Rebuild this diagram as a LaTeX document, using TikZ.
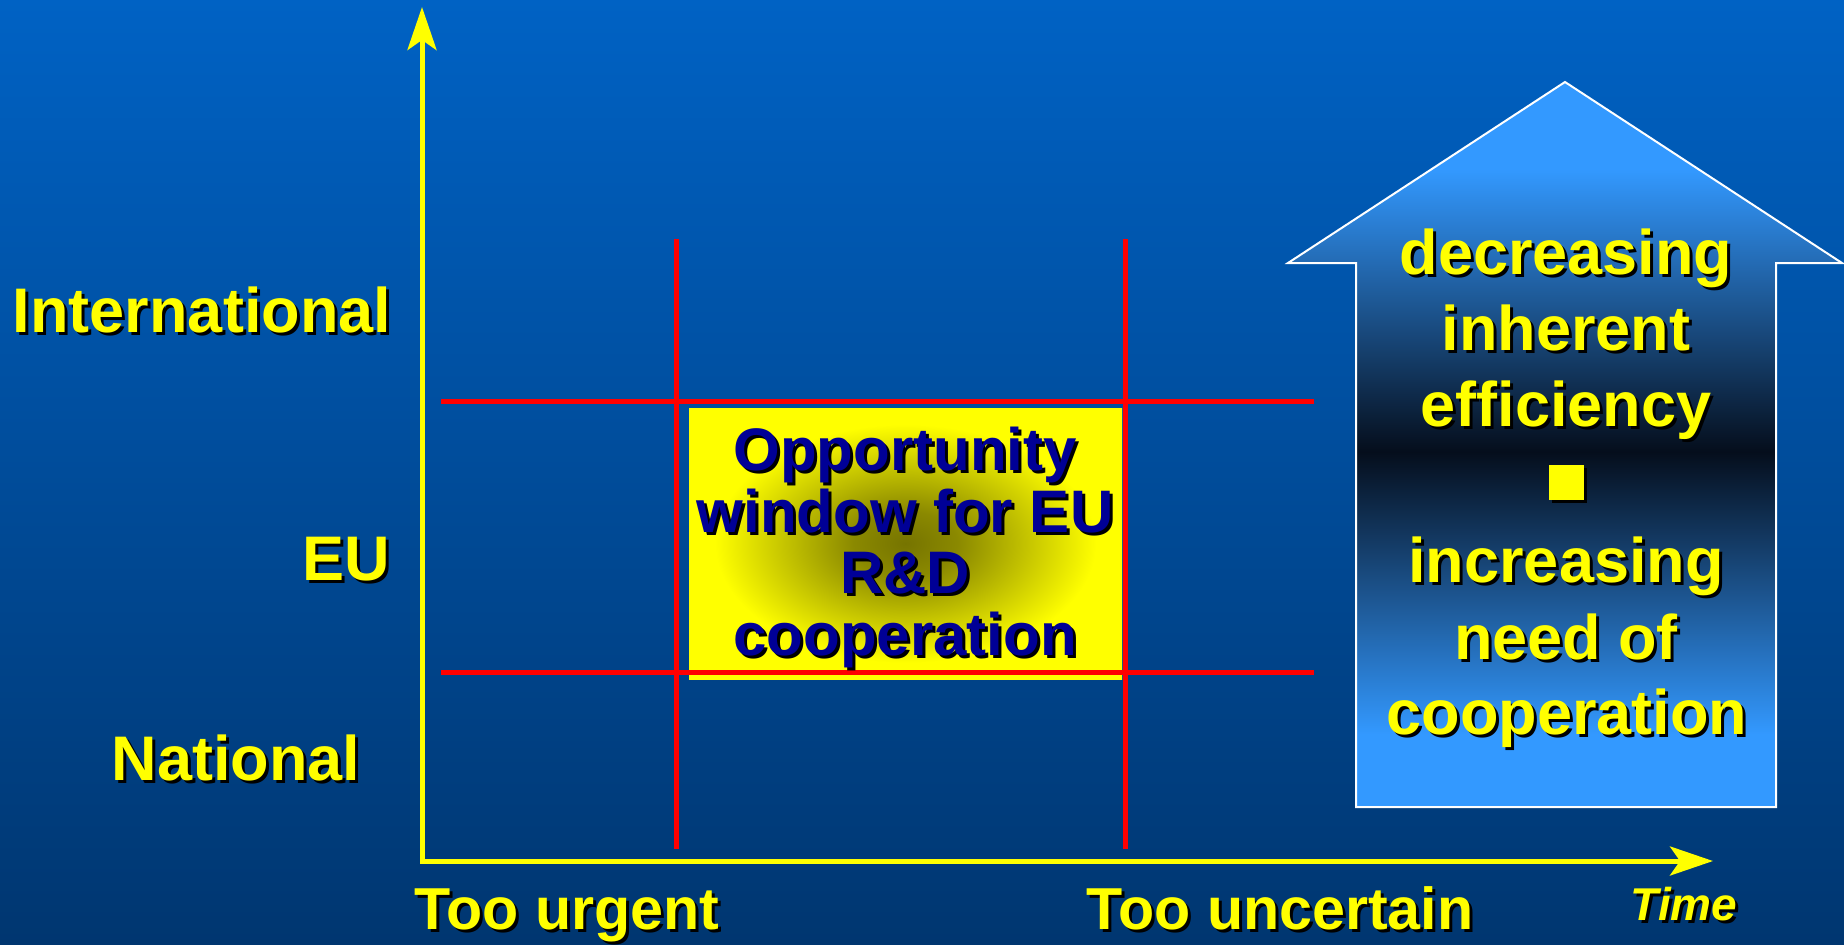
\documentclass[tikz,border=0pt]{standalone}
\usepackage{fontspec}
\setmainfont{Liberation Sans}
\usetikzlibrary{arrows.meta}
\definecolor{bgtop}{RGB}{0,98,196}
\definecolor{bgbot}{RGB}{0,54,112}
\definecolor{hlight}{RGB}{51,153,255}
\definecolor{hdark}{RGB}{5,14,28}
\definecolor{olv}{RGB}{118,116,0}
\definecolor{ylw}{RGB}{255,255,0}
\definecolor{navy}{RGB}{0,0,150}
\definecolor{redl}{RGB}{255,0,0}
\pgfdeclareverticalshading{housesh}{100bp}{color(0bp)=(hlight); color(30bp)=(hlight); color(49.5bp)=(hdark); color(69bp)=(hlight); color(100bp)=(hlight)}
\pgfdeclareradialshading{oppsh}{\pgfpoint{0bp}{0bp}}{color(0bp)=(olv); color(6bp)=(olv!85!ylw); color(22bp)=(ylw); color(50bp)=(ylw)}
\newcommand\shtext[4]{\node[#3,text=black] at ([shift={(1.5pt,-1.5pt)}]#2) {#4}; \node[#3] (#1) at (#2) {#4};}
\begin{document}
\begin{tikzpicture}[x=0.5pt,y=-0.5pt,
  lbl/.style={inner sep=0pt,anchor=base,text=ylw,font=\fontsize{31.5}{38}\selectfont\bfseries},
  botlbl/.style={lbl,font=\fontsize{29.6}{36}\selectfont\bfseries},
  boxtxt/.style={inner sep=0pt,anchor=base,text=navy,font=\fontsize{30}{36}\selectfont\bfseries},
  timetxt/.style={inner sep=0pt,anchor=base,text=ylw,font=\fontsize{23}{27}\selectfont\bfseries\itshape},
  axis/.style={draw=ylw,line width=2.5pt,{Stealth[length=21.5pt,width=14.5pt,inset=5pt]}-{Stealth[length=21.5pt,width=14.5pt,inset=5pt]}},
  gridline/.style={draw=redl,line width=2.5pt}]
\fill[top color=bgtop,bottom color=bgbot] (0,0) rectangle (1844,944);
\useasboundingbox (0,0) rectangle (1844,944);
% opportunity box
\shade[shading=oppsh] (689,408) rectangle (1122,679);
% red grid
\draw[gridline] (441,401) -- (1314,401);
\draw[gridline] (441,672) -- (1314,672);
\draw[gridline] (676,239) -- (676,849);
\draw[gridline] (1125,239) -- (1125,849);
% axes
\coordinate (origin) at (422,861);
\coordinate (ytip) at (422,7);
\coordinate (xtip) at (1713,861);
\draw[axis] (ytip) -- (origin) -- (xtip);
% house arrow
\shade[shading=housesh] (1565,82) -- (1842,263) -- (1776,263) -- (1776,807) -- (1356,807) -- (1356,263) -- (1288,263) -- cycle;
\draw[white,line width=1pt] (1565,82) -- (1842,263) -- (1776,263) -- (1776,807) -- (1356,807) -- (1356,263) -- (1288,263) -- cycle;
% labels
\shtext{intl}{202,332}{lbl}{International}
\shtext{eu}{346,580}{lbl}{EU}
\shtext{natl}{236,780}{lbl}{National}
\shtext{urgent}{567,929}{botlbl}{Too urgent}
\shtext{uncert}{1280,929}{botlbl}{Too uncertain}
\shtext{time}{1684,920}{timetxt}{Time}
% box text
\shtext{b1}{905,470}{boxtxt}{Opportunity}
\shtext{b2}{905,532}{boxtxt}{window for EU}
\shtext{b3}{905,593}{boxtxt}{R\&D}
\shtext{b4}{905,655}{boxtxt}{cooperation}
% house text
\shtext{h1}{1566,274}{lbl}{decreasing}
\shtext{h2}{1566,350}{lbl}{inherent}
\shtext{h3}{1566,426}{lbl}{efficiency}
\shtext{sq}{1566,500}{lbl}{\rule{17.5pt}{17.5pt}}
\shtext{h4}{1566,582}{lbl}{increasing}
\shtext{h5}{1566,659}{lbl}{need of}
\shtext{h6}{1567,734}{lbl}{cooperation}
\end{tikzpicture}
\end{document}
